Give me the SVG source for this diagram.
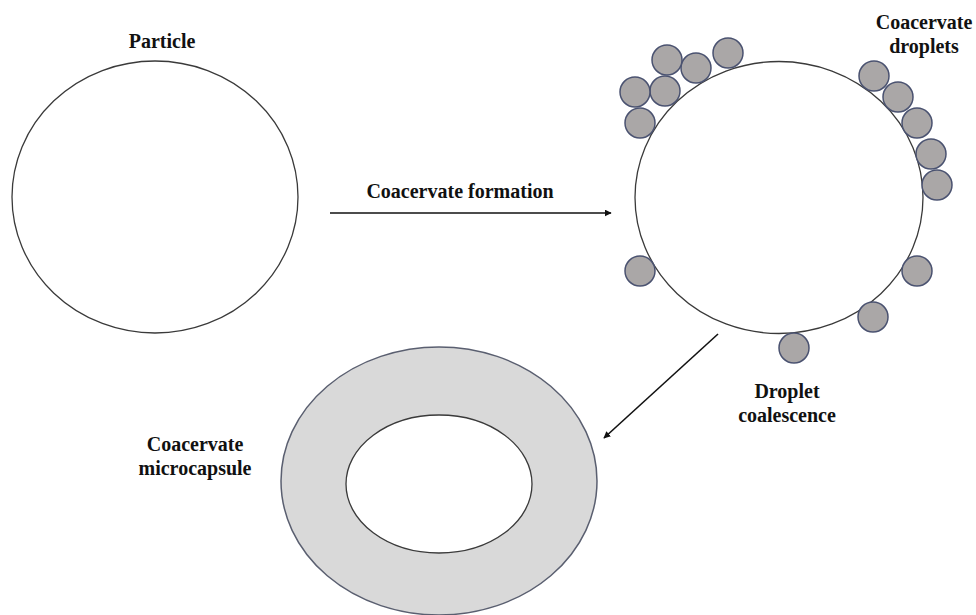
<svg xmlns="http://www.w3.org/2000/svg" width="976" height="615" viewBox="0 0 976 615">
<defs>
<style>
.lbl{font-weight:700;font-size:20px;fill:#111;text-anchor:middle}
.outline{fill:#fff;stroke:#3a3a3a;stroke-width:1.3}
.drop{fill:#aaa7a7;stroke:#4a5270;stroke-width:1.5}
.ring{fill:#d9d9d9;stroke:#5a5f70;stroke-width:1.5}
.conn{stroke:#111;stroke-width:1.6;fill:none}
</style>
<marker id="ah" viewBox="0 0 10 10" refX="9" refY="5" markerWidth="7" markerHeight="7" markerUnits="userSpaceOnUse" orient="auto">
<path d="M0,0 L10,5 L0,10 Z" fill="#111"/>
</marker>
</defs>
<rect width="976" height="615" fill="#fff"/>
<g font-family="Liberation Serif, DejaVu Serif, serif">
<g id="particle">
<ellipse class="outline" cx="155" cy="197" rx="143" ry="136"/>
<text class="lbl" x="162" y="48">Particle</text>
</g>
<g id="coated-particle">
<ellipse class="outline" cx="779" cy="197.5" rx="144" ry="136"/>
<circle class="drop" cx="728" cy="53" r="15"/>
<circle class="drop" cx="696" cy="68" r="15"/>
<circle class="drop" cx="667" cy="60" r="15"/>
<circle class="drop" cx="665" cy="91" r="15"/>
<circle class="drop" cx="635" cy="92" r="15"/>
<circle class="drop" cx="640" cy="123" r="15"/>
<circle class="drop" cx="874" cy="76" r="15"/>
<circle class="drop" cx="898" cy="97" r="15"/>
<circle class="drop" cx="917" cy="123" r="15"/>
<circle class="drop" cx="931" cy="154" r="15"/>
<circle class="drop" cx="937" cy="185" r="15"/>
<circle class="drop" cx="640" cy="271" r="15"/>
<circle class="drop" cx="917" cy="271" r="15"/>
<circle class="drop" cx="873" cy="317" r="15"/>
<circle class="drop" cx="794" cy="348" r="15"/>
<text class="lbl" x="924" y="29">Coacervate</text>
<text class="lbl" x="924" y="53">droplets</text>
</g>
<g id="microcapsule">
<ellipse class="ring" cx="439" cy="481" rx="158" ry="134"/>
<ellipse class="outline" cx="439" cy="484" rx="93" ry="69"/>
<text class="lbl" x="195" y="451">Coacervate</text>
<text class="lbl" x="195" y="475">microcapsule</text>
</g>
<g id="connectors">
<line class="conn" x1="330" y1="213" x2="611" y2="213" marker-end="url(#ah)"/>
<text class="lbl" x="460" y="198">Coacervate formation</text>
<line class="conn" x1="718" y1="334" x2="604" y2="438" marker-end="url(#ah)"/>
<text class="lbl" x="787" y="398">Droplet</text>
<text class="lbl" x="787" y="422">coalescence</text>
</g>
</g>
</svg>
